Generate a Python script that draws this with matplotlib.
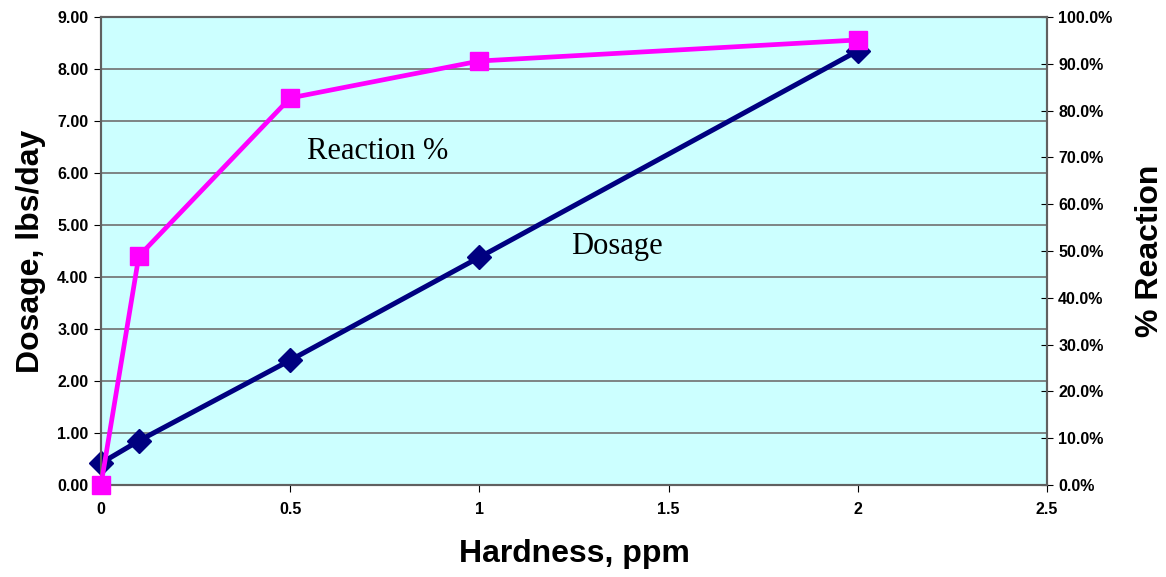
import matplotlib
matplotlib.use('Agg')
import matplotlib.pyplot as plt
from matplotlib.ticker import FuncFormatter

hardness = [0, 0.1, 0.5, 1, 2]
dosage = [0.42, 0.85, 2.40, 4.38, 8.35]
reaction = [0.0, 48.9, 82.7, 90.6, 95.1]

plt.rcParams['font.family'] = ['Liberation Sans', 'DejaVu Sans']

fig = plt.figure(figsize=(11.66, 5.77), dpi=100)
ax = fig.add_axes([0.0866, 0.1594, 0.8114, 0.8111])
ax.set_facecolor('#CCFFFF')
ax2 = ax.twinx()

ax.plot(hardness, dosage, color='#000080', lw=3.6, marker='D', ms=12, zorder=3, clip_on=False)
ax2.plot(hardness, reaction, color='#FF00FF', lw=3.4, marker='s', ms=13, zorder=3, clip_on=False)

ax.set_xlim(0, 2.5)
ax.set_ylim(0, 9)
ax2.set_ylim(0, 100)
ax.set_xticks([0, 0.5, 1, 1.5, 2, 2.5])
ax.set_xticklabels(['0', '0.5', '1', '1.5', '2', '2.5'])
ax.set_yticks(range(0, 10))
ax.yaxis.set_major_formatter(FuncFormatter(lambda v, p: '%.2f' % v))
ax2.set_yticks(range(0, 101, 10))
ax2.yaxis.set_major_formatter(FuncFormatter(lambda v, p: '%.1f%%' % v))

ax.grid(axis='y', color='#707070', lw=1.2)
ax.set_axisbelow(True)
for a in (ax, ax2):
    for s in a.spines.values():
        s.set_color('#606060')
        s.set_linewidth(1.5)
    for lab in a.get_xticklabels() + a.get_yticklabels():
        lab.set_fontweight('bold')
        lab.set_fontsize(11.5)
ax.tick_params(axis='x', direction='out', length=5, pad=7, colors='black')
ax.tick_params(axis='y', direction='out', length=5, pad=4)
ax2.tick_params(axis='y', direction='inout', length=8, pad=4)

ax.set_xlabel('Hardness, ppm', fontsize=23, fontweight='bold', labelpad=16)
ax.set_ylabel('Dosage, lbs/day', fontsize=23, fontweight='bold', labelpad=8)
ax2.set_ylabel('% Reaction', fontsize=23, fontweight='bold', labelpad=16)

ax.text(0.732, 6.42, 'Reaction %', fontsize=22, family=['Liberation Serif', 'DejaVu Serif'], ha='center', va='center')
ax.text(1.364, 4.58, 'Dosage', fontsize=22, family=['Liberation Serif', 'DejaVu Serif'], ha='center', va='center')

plt.savefig('out.png', dpi=100)
